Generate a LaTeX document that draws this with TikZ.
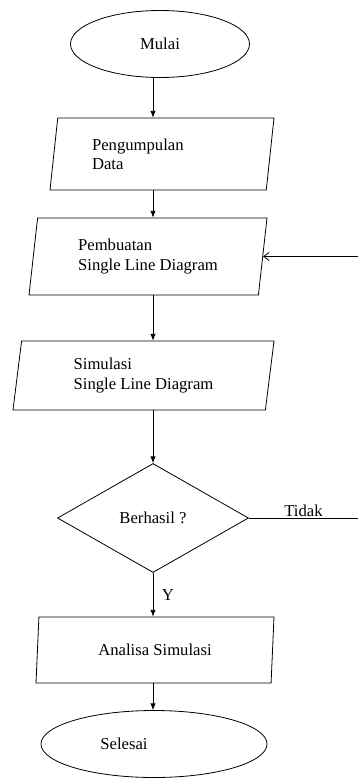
\documentclass[tikz,border=0pt]{standalone}
\usepackage{fontspec}
\setmainfont{Liberation Serif}
\usetikzlibrary{shapes.geometric,arrows.meta}

\begin{document}
\begin{tikzpicture}[x=0.75pt,y=0.75pt,yscale=-1,xscale=1,
  garis/.style={line width=0.6pt},
  terminal/.style={draw,garis,ellipse,inner sep=0pt},
  proses/.style={draw,garis,trapezium,trapezium left angle=76,trapezium right angle=104,trapezium stretches body,inner sep=0pt,align=left},
  keputusan/.style={draw,garis,diamond,inner sep=0pt},
  panah/.style={garis,-{Latex[length=5pt,width=4pt]}},
  balik/.style={garis,-{Straight Barb[length=4pt,width=6pt]}},
  font=\fontsize{12.5}{14.5}\selectfont]
%set diagram left start at 0, and has height of 778
\useasboundingbox (0,0) rectangle (358,778);

%Shape: Ellipse [id:mulai]
\node (mulai) [terminal,minimum width=134.25pt,minimum height=50.25pt] at (160,44) {Mulai};
%Shape: Parallelogram [id:data]
\node (data) [proses,minimum width=168pt,minimum height=54pt,text width=105pt] at (162,154) {Pengumpulan\\Data};
%Shape: Parallelogram [id:buat]
\node (buat) [proses,minimum width=178.5pt,minimum height=57.75pt] at (148,256.5) {Pembuatan\\Single Line Diagram};
%Shape: Parallelogram [id:simulasi]
\node (simulasi) [proses,minimum width=195.75pt,minimum height=51.75pt] at (143.5,375.5) {Simulasi\\Single Line Diagram};
%Shape: Diamond [id:cek]
\node (cek) [keputusan,minimum width=143.25pt,minimum height=81.75pt] at (153,518) {Berhasil ?};
%Shape: Parallelogram [id:analisa]
\node (analisa) [proses,minimum width=178.5pt,minimum height=49.5pt] at (155,650) {Analisa Simulasi};
%Shape: Ellipse [id:selesai]
\node (selesai) [terminal,minimum width=169.5pt,minimum height=50.25pt,label={[xshift=-22.5pt]center:Selesai}] at (154,744) {};

%Straight Lines
\draw [panah] (mulai.south -| cek) -- (data.north -| cek) ;
\draw [panah] (data.south -| cek) -- (buat.north -| cek) ;
\draw [panah] (buat.south -| cek) -- (simulasi.north -| cek) ;
\draw [panah] (simulasi.south -| cek) -- (cek.north) ;
\draw [panah] (cek.south) -- (analisa.north -| cek) node [midway,right,xshift=3pt] {Y} ;
\draw [panah] (analisa.south -| cek) -- (selesai.north -| cek) ;

%Loop back
\coordinate (tepi) at (358,517);
\draw [garis] (cek.east) -- (cek.east -| tepi) node [midway,above,inner sep=1pt] {Tidak} ;
\draw [balik] (buat.east -| tepi) -- (buat.east) ;

\end{tikzpicture}
\end{document}
